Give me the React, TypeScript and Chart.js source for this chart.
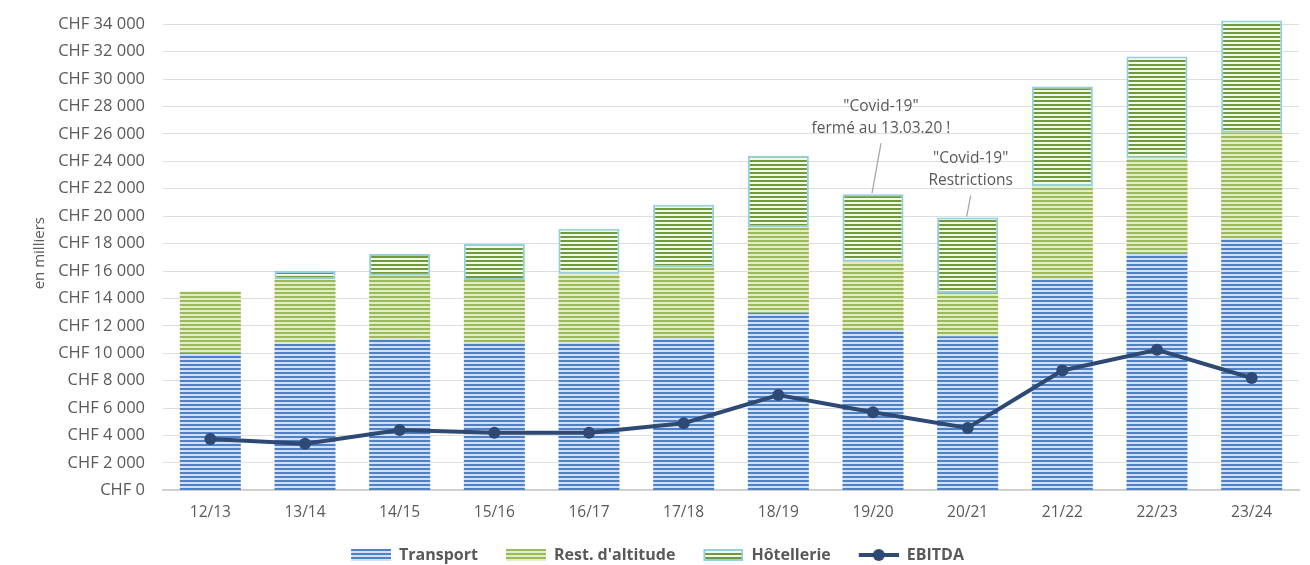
import { useEffect, useRef } from 'react';
import { Chart, registerables } from 'chart.js';

Chart.register(...registerables);

// Saisons et chiffres (CHF, en milliers)
const seasons = ['12/13', '13/14', '14/15', '15/16', '16/17', '17/18', '18/19', '19/20', '20/21', '21/22', '22/23', '23/24'];
const transport = [10000, 10700, 11050, 10750, 10800, 11100, 12950, 11700, 11250, 15400, 17300, 18350];
const restAltitude = [4500, 4700, 4600, 4600, 5000, 5200, 6250, 5000, 3150, 6800, 6900, 7750];
const hotellerie = [null, 600, 1600, 2630, 3280, 4530, 5200, 4900, 5500, 7260, 7450, 8180];
const ebitda = [3750, 3400, 4400, 4200, 4200, 4900, 6950, 5700, 4550, 8750, 10250, 8200];

const yTickValues = [0, 2000, 4000, 6000, 8000, 10000, 12000, 14000, 16000, 18000, 20000, 22000, 24000, 26000, 28000, 30000, 32000, 34000];

const covidNotes = [
  { index: 7, lines: ['"Covid-19"', 'fermé au 13.03.20 !'] },
  { index: 8, lines: ['"Covid-19"', 'Restrictions'] },
];

const TEXT = '#595959';
const NAVY = '#2E4A74';
const TEAL = '#93CFDD';

function stripes(dark: string, light: string) {
  const c = document.createElement('canvas');
  c.width = 4;
  c.height = 4;
  const ctx = c.getContext('2d')!;
  ctx.fillStyle = light;
  ctx.fillRect(0, 0, 4, 4);
  ctx.fillStyle = dark;
  ctx.fillRect(0, 0, 4, 2);
  return ctx.createPattern(c, 'repeat')!;
}

const ICON_GAP = 16;

function barIcon(fill: CanvasPattern, border?: string) {
  const c = document.createElement('canvas');
  c.width = ICON_GAP + 40;
  c.height = 12;
  const ctx = c.getContext('2d')!;
  ctx.fillStyle = fill;
  ctx.fillRect(ICON_GAP, 0, 40, 12);
  if (border) {
    ctx.strokeStyle = border;
    ctx.lineWidth = 2;
    ctx.strokeRect(ICON_GAP + 1, 1, 38, 10);
  }
  return c;
}

function lineIcon() {
  const c = document.createElement('canvas');
  c.width = ICON_GAP + 40;
  c.height = 14;
  const ctx = c.getContext('2d')!;
  ctx.strokeStyle = NAVY;
  ctx.lineWidth = 4;
  ctx.beginPath();
  ctx.moveTo(ICON_GAP, 7);
  ctx.lineTo(ICON_GAP + 40, 7);
  ctx.stroke();
  ctx.fillStyle = NAVY;
  ctx.beginPath();
  ctx.arc(ICON_GAP + 20, 7, 6, 0, Math.PI * 2);
  ctx.fill();
  return c;
}

const notesPlugin = {
  id: 'covidNotes',
  afterDatasetsDraw(chart: any) {
    const { ctx } = chart;
    const layout = [
      { dx: 9, rise: 50 },
      { dx: 4, rise: 21 },
    ];
    covidNotes.forEach((note, i) => {
      const bar = chart.getDatasetMeta(2).data[note.index];
      if (!bar) return;
      const x0 = bar.x - 1;
      const y0 = bar.y - 1;
      const x1 = x0 + layout[i].dx;
      const y1 = y0 - layout[i].rise;
      ctx.save();
      ctx.strokeStyle = '#A6A6A6';
      ctx.lineWidth = 1.3;
      ctx.beginPath();
      ctx.moveTo(x0, y0);
      ctx.lineTo(x1, y1);
      ctx.stroke();
      ctx.fillStyle = TEXT;
      ctx.font = "15.5px 'Open Sans', sans-serif";
      ctx.textAlign = 'center';
      ctx.textBaseline = 'middle';
      ctx.fillText(note.lines[1], x1, y1 - 15);
      ctx.fillText(note.lines[0], x1, y1 - 37);
      ctx.restore();
    });
  },
};

export default function App() {
  const canvasRef = useRef<HTMLCanvasElement>(null);

  useEffect(() => {
    if (!canvasRef.current) return;
    Chart.defaults.font.family = "'Open Sans', sans-serif";

    const transportFill = stripes('#4F81C7', '#D3E0F3');
    const restFill = stripes('#9BBB59', '#E2ECCB');
    const hotelFill = stripes('#6F9A3B', '#F3F7EC');
    const icons = [barIcon(transportFill), barIcon(restFill), barIcon(hotelFill, TEAL), lineIcon()];

    const chart = new Chart(canvasRef.current, {
      type: 'bar',
      data: {
        labels: seasons,
        datasets: [
          { type: 'bar', label: 'Transport', data: transport, backgroundColor: transportFill, order: 1, barPercentage: 0.645, categoryPercentage: 1 },
          { type: 'bar', label: "Rest. d'altitude", data: restAltitude, backgroundColor: restFill, order: 1, barPercentage: 0.645, categoryPercentage: 1 },
          {
            type: 'bar', label: 'Hôtellerie', data: hotellerie as any, backgroundColor: hotelFill,
            borderColor: TEAL, borderWidth: 2, borderSkipped: false, order: 1, barPercentage: 0.645, categoryPercentage: 1,
          },
          {
            type: 'line', label: 'EBITDA', data: ebitda, borderColor: NAVY, backgroundColor: NAVY,
            borderWidth: 4, pointRadius: 6, pointBackgroundColor: NAVY, pointBorderWidth: 0, tension: 0, order: 0,
          },
        ],
      },
      options: {
        animation: false,
        responsive: true,
        maintainAspectRatio: false,
        layout: { padding: { top: 16, right: 11, left: 0, bottom: 0 } },
        plugins: {
          tooltip: { enabled: false },
          legend: {
            position: 'bottom',
            labels: {
              usePointStyle: true,
              pointStyleWidth: ICON_GAP + 40,
              padding: 12,
              color: TEXT,
              font: { size: 16, weight: 'bold' },
              generateLabels: (ch: any) =>
                ch.data.datasets.map((ds: any, i: number) => ({
                  text: ds.label,
                  pointStyle: icons[i],
                  datasetIndex: i,
                  fontColor: TEXT,
                  hidden: false,
                  lineWidth: 0,
                  strokeStyle: 'transparent',
                  fillStyle: 'transparent',
                })),
            },
          },
        },
        scales: {
          x: {
            stacked: true,
            grid: { display: false, drawTicks: false },
            border: { color: '#D0D0D0', width: 2 },
            ticks: { color: TEXT, font: { size: 15.5 }, padding: 13 },
          },
          y: {
            stacked: true,
            min: 0,
            max: 34600,
            afterFit: (scale: any) => { scale.width = 163; },
            afterBuildTicks: (scale: any) => {
              scale.ticks = yTickValues.map((v) => ({ value: v }));
            },
            grid: { color: '#DEDEDE', lineWidth: 1, drawTicks: true, tickLength: 18, tickColor: 'rgba(0,0,0,0)' },
            border: { display: false },
            title: { display: true, text: 'en milliers', color: TEXT, font: { size: 15 }, padding: { top: 31, bottom: 0 } },
            ticks: {
              color: TEXT,
              font: { size: 16.5 },
              padding: 0,
              autoSkip: false,
              callback: (v: any) => 'CHF ' + String(v).replace(/\B(?=(\d{3})+(?!\d))/g, ' '),
            },
          },
        },
      },
      plugins: [notesPlugin],
    });

    return () => chart.destroy();
  }, []);

  return (
    <div style={{ position: 'fixed', left: 0, top: 0, width: 1310, height: 573, background: '#fff' }}>
      <canvas ref={canvasRef} />
    </div>
  );
}
